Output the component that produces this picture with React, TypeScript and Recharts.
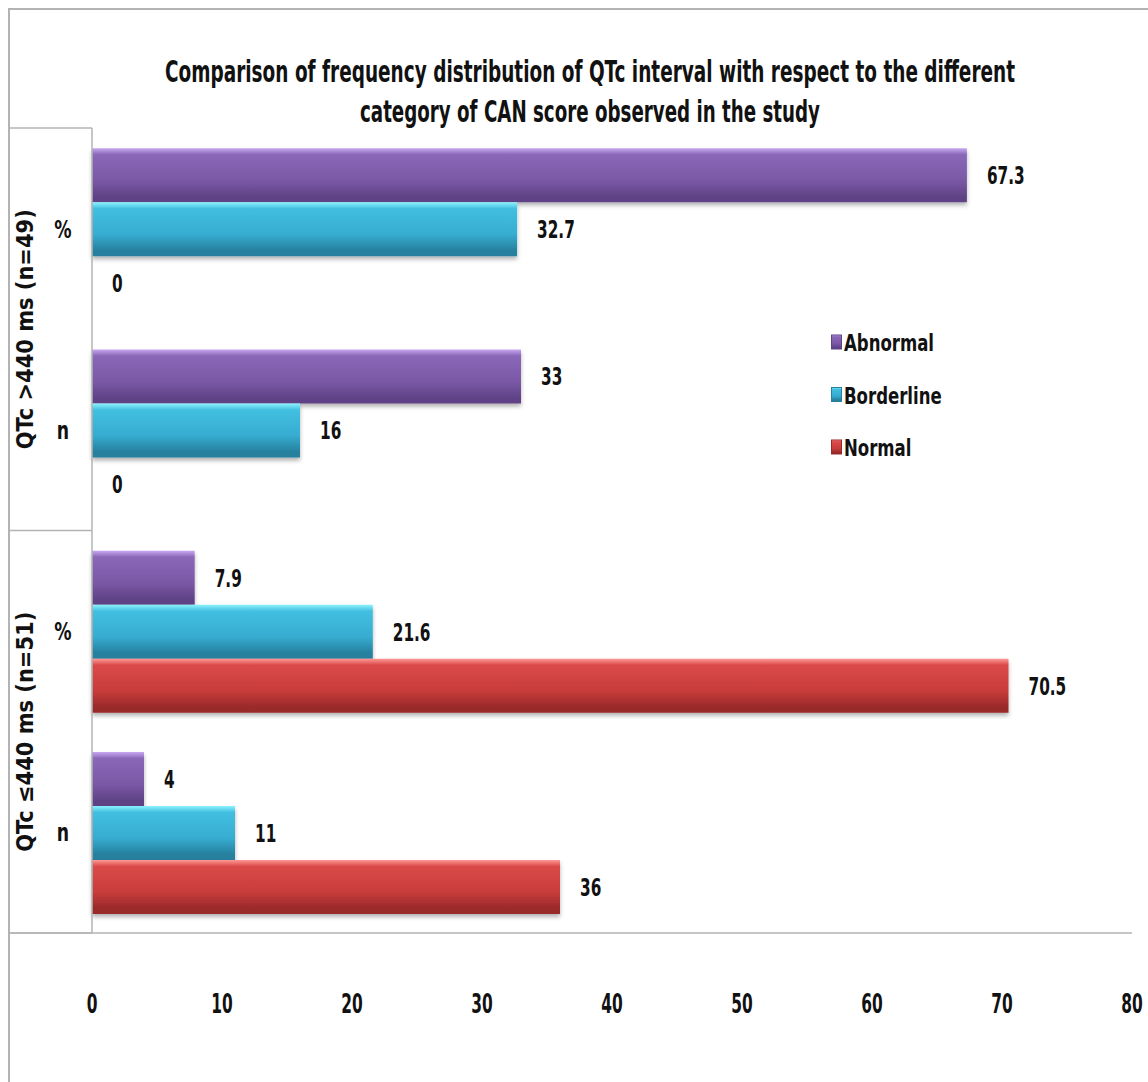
import React from 'react';
import { BarChart, Bar, XAxis, YAxis, Legend, LabelList } from 'recharts';

// data
const categories = ['%', 'n', '%', 'n'];
const groups = ['QTc >440 ms (n=49)', 'QTc >440 ms (n=49)', 'QTc \u2264440 ms (n=51)', 'QTc \u2264440 ms (n=51)'];
const abnormal = [67.3, 33, 7.9, 4];
const borderline = [32.7, 16, 21.6, 11];
const normal = [0, 0, 70.5, 36];
const xTicks = [0, 10, 20, 30, 40, 50, 60, 70, 80];
const seriesNames = ['Abnormal', 'Borderline', 'Normal'];
const titleLines = [
  'Comparison of frequency distribution of QTc interval with respect to the different',
  'category of CAN score observed in the study',
];

const data = categories.map((c, i) => ({
  key: groups[i] + '|' + c,
  Abnormal: abnormal[i],
  Borderline: borderline[i],
  Normal: normal[i],
}));

const FONT = "'DejaVu Sans Condensed', 'DejaVu Sans', sans-serif";
const W = 1148;
const H = 1082;
const PLOT_TOP = 128;
const PLOT_BOTTOM = 933;
const PLOT_LEFT = 92;
const BAND = (PLOT_BOTTOM - PLOT_TOP) / categories.length;
const LINE = '#b3b3b3';
const TITLE_SX = 0.6;

const colors: Record<string, string[]> = {
  Abnormal: ['#c9a9f2', '#8a68b8', '#7a58a6', '#5f4386'],
  Borderline: ['#8df3ff', '#42bfe0', '#36acd0', '#26809e'],
  Normal: ['#ff9a98', '#da4a48', '#c83c3b', '#99292a'],
};

// text squeezed horizontally, the reference uses a tall narrow bold face
function NarrowText({ x, y, size, sx, anchor = 'start', children }: any) {
  return (
    <text
      transform={`translate(${x} ${y}) scale(${sx} 1)`}
      textAnchor={anchor}
      fontFamily={FONT}
      fontWeight="bold"
      fontSize={size}
      fill="#111"
    >
      {children}
    </text>
  );
}

function XTick(props: any) {
  const { x, payload } = props;
  return (
    <NarrowText x={x} y={PLOT_BOTTOM + 80} size={26} sx={0.66} anchor="middle">
      {payload.value}
    </NarrowText>
  );
}

function YTick(props: any) {
  const { y, index, payload } = props;
  const [group, sub] = String(payload.value).split('|');
  const groupY = y + BAND / 2;
  return (
    <g>
      <NarrowText x={63} y={y + 9} size={24} sx={0.8} anchor="middle">
        {sub}
      </NarrowText>
      {index % 2 === 0 && (
        <>
          <line x1={8} x2={PLOT_LEFT} y1={y - BAND / 2} y2={y - BAND / 2} stroke={LINE} strokeWidth={1.5} />
          <text
            x={25}
            y={groupY}
            transform={`rotate(-90 25 ${groupY})`}
            textAnchor="middle"
            dy={8}
            fontFamily={FONT}
            fontWeight="bold"
            fontSize={23}
            fill="#111"
            textLength={240}
            lengthAdjust="spacingAndGlyphs"
          >
            {group}
          </text>
        </>
      )}
      {index === categories.length - 1 && (
        <line x1={8} x2={PLOT_LEFT} y1={y + BAND / 2} y2={y + BAND / 2} stroke={LINE} strokeWidth={1.5} />
      )}
    </g>
  );
}

function ValueLabel(props: any) {
  const { x, y, width, height, value } = props;
  const w = value === 0 ? 0 : Number(width || 0);
  return (
    <NarrowText x={Number(x) + w + 20} y={Number(y) + Number(height) / 2 + 9} size={25} sx={0.68}>
      {value}
    </NarrowText>
  );
}

function LegendBox(props: any) {
  const payload = props.payload || [];
  return (
    <svg width={160} height={160}>
      {payload.map((p: any, i: number) => (
        <g key={p.value} transform={`translate(0 ${i * 52.5})`}>
          <rect x={5.5} y={19} width={10} height={14} fill={`url(#grad-${p.value})`} stroke={colors[p.value][3]} strokeWidth={1} />
          <NarrowText x={18} y={35} size={23} sx={0.8}>
            {p.value}
          </NarrowText>
        </g>
      ))}
    </svg>
  );
}

export default function App() {
  return (
    <div style={{ position: 'fixed', left: 0, top: 0, width: W, height: H, background: '#fff', overflow: 'hidden' }}>
      <div
        style={{
          position: 'absolute',
          left: 8,
          top: 8,
          width: W,
          height: H,
          borderTop: `2px solid ${LINE}`,
          borderLeft: `2px solid ${LINE}`,
          boxSizing: 'border-box',
        }}
      />
      <svg width={W} height={H} style={{ position: 'absolute', left: 0, top: 0 }}>
        {titleLines.map((t, i) => (
          <g key={i} transform={`translate(590 ${82 + i * 40}) scale(${TITLE_SX} 1)`}>
            <text
              x={0}
              y={0}
              textAnchor="middle"
              fontFamily={FONT}
              fontWeight="bold"
              fontSize={30}
              fill="#111"
              textLength={(i === 0 ? 850 : 460) / TITLE_SX}
              lengthAdjust="spacingAndGlyphs"
            >
              {t}
            </text>
          </g>
        ))}
        <line x1={8} x2={PLOT_LEFT} y1={PLOT_BOTTOM} y2={PLOT_BOTTOM} stroke={LINE} strokeWidth={1.5} />
      </svg>
      <div style={{ position: 'absolute', left: 0, top: 0 }}>
        <BarChart
          width={W}
          height={H}
          data={data}
          layout="vertical"
          margin={{ top: PLOT_TOP, right: 16, bottom: 49, left: 8 }}
          barCategoryGap="10%"
          barGap={0}
        >
          <defs>
            {seriesNames.map((s) => (
              <linearGradient key={s} id={`grad-${s}`} x1="0" y1="0" x2="0" y2="1">
                <stop offset="0%" stopColor={colors[s][0]} />
                <stop offset="12%" stopColor={colors[s][1]} />
                <stop offset="60%" stopColor={colors[s][2]} />
                <stop offset="90%" stopColor={colors[s][3]} />
                <stop offset="100%" stopColor={colors[s][3]} />
              </linearGradient>
            ))}
            <filter id="barShadow" x="-5%" y="-10%" width="110%" height="130%">
              <feDropShadow dx={0} dy={3} stdDeviation={2} floodColor="#000" floodOpacity={0.3} />
            </filter>
          </defs>
          <XAxis
            type="number"
            domain={[0, 80]}
            ticks={xTicks}
            interval={0}
            height={100}
            tickLine={false}
            axisLine={{ stroke: LINE, strokeWidth: 1.5 }}
            tick={<XTick />}
          />
          <YAxis
            type="category"
            dataKey="key"
            width={84}
            tickLine={false}
            axisLine={{ stroke: LINE, strokeWidth: 1.5 }}
            tick={<YTick />}
          />
          <Legend
            layout="vertical"
            align="center"
            verticalAlign="middle"
            content={<LegendBox />}
            wrapperStyle={{ left: 826, top: 316, width: 160 }}
          />
          {seriesNames.map((s) => (
            <Bar
              key={s}
              dataKey={s}
              name={s}
              fill={`url(#grad-${s})`}
              stroke="none"
              minPointSize={(v: number) => (v === 0 ? 0.01 : 0)}
              filter="url(#barShadow)"
              isAnimationActive={false}
            >
              <LabelList dataKey={s} content={<ValueLabel />} />
            </Bar>
          ))}
        </BarChart>
      </div>
    </div>
  );
}
